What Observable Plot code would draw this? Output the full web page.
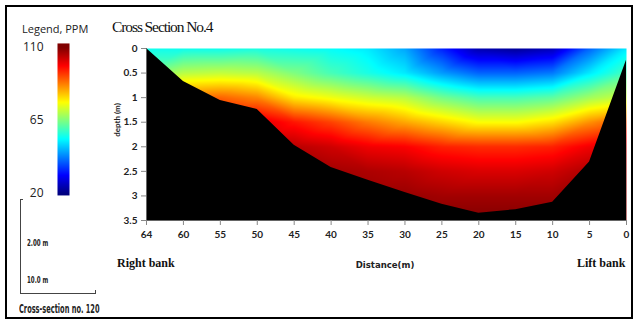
<!DOCTYPE html>
<html><head><meta charset="utf-8">
<script src="https://cdn.jsdelivr.net/npm/d3@7"></script>
<script src="https://cdn.jsdelivr.net/npm/@observablehq/plot@0.6"></script>
<style>
body{margin:0;background:#fff;}
#wrap{position:relative;width:639px;height:324px;overflow:hidden;background:#fff;}
#box{position:absolute;left:5px;top:5px;width:624px;height:310px;border:2px solid #000;}
.t{position:absolute;white-space:nowrap;line-height:16px;}
#chart,#legend{position:absolute;left:0;top:0;}
</style></head><body>
<div id="wrap">
  <div id="box"></div>
  <div id="chart"></div>
  <div id="legend"></div>
  <div class="t" style="left:112px;top:19px;font-family:'Liberation Serif';font-size:15.5px;letter-spacing:-1.1px;color:#111;">Cross Section No.4</div>
  <div class="t" style="left:22px;top:21px;font-family:'Open Sans';font-size:11px;color:#222;">Legend, PPM</div>
  <div class="t" style="left:117px;top:120px;font-family:Lato;font-weight:bold;font-size:8px;color:#222;transform:translate(-50%,-50%) rotate(-90deg);">depth (m)</div>
  <div class="t" style="left:117px;top:255px;font-family:'Liberation Serif';font-weight:bold;font-size:12px;color:#111;">Right bank</div>
  <div class="t" style="left:385px;top:257px;font-family:'DejaVu Sans Condensed','DejaVu Sans';font-stretch:condensed;font-weight:bold;font-size:9.5px;color:#222;transform:translateX(-50%);">Distance(m)</div>
  <div class="t" style="left:577px;top:255px;font-family:'Liberation Serif';font-weight:bold;font-size:12px;color:#111;">Lift bank</div>
  <div style="position:absolute;left:20px;top:200px;width:1px;height:93px;background:#444;"></div>
  <div style="position:absolute;left:20px;top:199px;width:3px;height:1px;background:#444;"></div>
  <div style="position:absolute;left:20px;top:293px;width:76px;height:1px;background:#444;"></div>
  <div style="position:absolute;left:95px;top:290px;width:1px;height:4px;background:#444;"></div>
  <div class="t" style="left:27px;top:235px;font-family:'DejaVu Sans Condensed';font-weight:bold;font-size:9px;color:#222;transform:scaleX(0.68);transform-origin:left center;">2.00 m</div>
  <div class="t" style="left:27px;top:272px;font-family:'DejaVu Sans Condensed';font-weight:bold;font-size:9px;color:#222;transform:scaleX(0.68);transform-origin:left center;">10.0 m</div>
  <div class="t" style="left:19px;top:301px;font-family:'DejaVu Sans Condensed';font-weight:bold;font-size:11.5px;color:#222;transform:scaleX(0.64);transform-origin:left center;">Cross-section no. 120</div>
</div>
<script>
// Distance categories (m), evenly spaced on the chart
const distLabels = ["64","60","55","50","45","40","35","30","25","20","15","10","5","0"];
// River bed depth (m) at each category
const bedDepth = [0, 0.67, 1.06, 1.24, 1.97, 2.42, 2.68, 2.93, 3.17, 3.35, 3.28, 3.13, 2.31, 0.24];
// Sample depths (m)
const sampleDepths = [0, 0.5, 1, 1.5, 2, 2.5, 3, 3.5];
// Concentration (PPM) read at each sample depth, per category (64 -> 0)
const ppm_d00 = [55, 55, 55, 56, 55, 54, 52, 46, 34, 24, 22, 25, 40, 52];
const ppm_d05 = [64, 70, 71, 70, 65, 60, 56, 52, 45, 40, 40, 42, 52, 60];
const ppm_d10 = [82, 88, 90, 87, 78, 75, 72, 70, 64, 60, 60, 62, 68, 72];
const ppm_d15 = [98, 100, 102, 102, 97, 93, 88, 84, 80, 76, 76, 79, 86, 92];
const ppm_d20 = [106, 106, 106, 106, 105, 103, 100, 99, 96, 95, 95, 96, 100, 104];
const ppm_d25 = [108, 108, 108, 108, 108, 107, 106, 105, 103, 102, 102, 103, 106, 107];
const ppm_d30 = [110, 110, 110, 110, 110, 109, 108, 108, 107, 107, 107, 107, 108, 109];
const ppm_d35 = [110, 110, 110, 110, 110, 110, 110, 110, 110, 110, 110, 110, 110, 110];
const depthTicks = [0, 0.5, 1, 1.5, 2, 2.5, 3, 3.5];
const legendTicks = [20, 65, 110];
// Jet colour map stops
const jetStops = [20, 31.25, 53.75, 76.25, 98.75, 110];
const jetColors = ["#000080", "#0000ff", "#00ffff", "#ffff00", "#ff0000", "#800000"];

const rows = [ppm_d00, ppm_d05, ppm_d10, ppm_d15, ppm_d20, ppm_d25, ppm_d30, ppm_d35];
const pts = [];
rows.forEach((row, r) => row.forEach((v, i) => pts.push({i, depth: sampleDepths[r], ppm: v})));
const bed = bedDepth.map((d, i) => ({i, depth: d}));
const colorScale = {type: "linear", domain: jetStops, range: jetColors, clamp: true};

const chart = Plot.plot({
  width: 639, height: 324,
  marginLeft: 146, marginRight: 13, marginTop: 48, marginBottom: 104,
  style: {fontFamily: "Lato", fontWeight: "bold", fontSize: "10px", color: "#222", background: "transparent"},
  x: {domain: [0, 13]},
  y: {domain: [0, 3.5], reverse: true},
  color: colorScale,
  marks: [
    Plot.raster(pts, {x: "i", y: "depth", fill: "ppm", x1: 0, x2: 13, y1: 0, y2: 3.5, interpolate: "barycentric"}),
    Plot.areaY(bed, {x: "i", y1: "depth", y2: 3.5, fill: "black"}),
    Plot.ruleY([3.5], {stroke: "#666"}),
    Plot.ruleX([0], {stroke: "#666"}),
    Plot.axisX(d3.range(distLabels.length), {tickFormat: i => distLabels[i], tickSize: 5, tickPadding: 5, stroke: "#888", fill: "#222", label: null}),
    Plot.axisY(depthTicks, {tickFormat: d => String(d), tickSize: 5, tickPadding: 4, stroke: "#888", fill: "#222", label: null})
  ]
});
document.getElementById("chart").appendChild(chart);

// Legend: labels sit slightly inside the colour bar's ends
const legend = Plot.plot({
  width: 75, height: 210,
  marginLeft: 57, marginRight: 6, marginTop: 47, marginBottom: 17,
  style: {fontFamily: "'Open Sans'", fontSize: "12px", color: "#222", background: "transparent"},
  x: {domain: [0, 1], axis: null},
  y: {domain: [20, 110], clamp: false},
  color: colorScale,
  marks: [
    Plot.raster({fill: (x, y) => y, x1: 0, x2: 1, y1: 18.8, y2: 112.5}),
    Plot.axisY(legendTicks, {tickSize: 0, tickPadding: 14, label: null})
  ]
});
document.getElementById("legend").appendChild(legend);
</script>
</body></html>
